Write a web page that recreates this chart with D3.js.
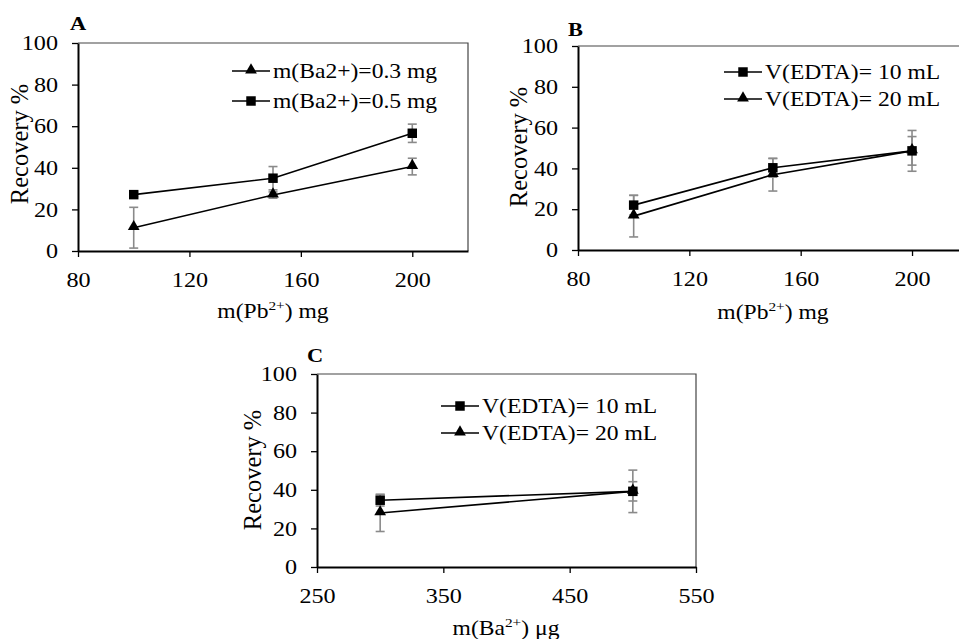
<!DOCTYPE html>
<meta charset="utf-8">
<style>
  body { margin: 0; background: #fff; }
  svg { display: block; font-family: "Liberation Serif", "Times New Roman", serif; }
</style>
<svg width="959" height="639"></svg>
<script src="https://d3js.org/d3.v7.min.js"></script>
<script>

// data
var pbMass = [100, 150, 200];
var baMass = [300, 500];

var recA03 = [11.2, 26.9, 40.6], errA03 = [9.8, 1.5, 4.0];
var recA05 = [27.1, 35.0, 56.6], errA05 = [1.0, 5.6, 4.4];

var recB10 = [22.0, 40.3, 48.6], errB10 = [4.8, 4.6, 10.0];
var recB20 = [16.6, 36.9, 48.6], errB20 = [10.2, 8.0, 7.0];

var recC10 = [34.6, 39.2], errC10 = [3.0, 11.0];
var recC20 = [28.0, 39.2], errC20 = [9.6, 5.0];

var yTicks = [0, 20, 40, 60, 80, 100];
var pbTicks = [80, 120, 160, 200];
var baTicks = [250, 350, 450, 550];

var svg = d3.select("svg");
var SX = 1.18;   // the picture is a little wider than tall

function txt(g, x, y, s, size, anchor, weight) {
  return g.append("text")
    .attr("transform", "translate(" + x + "," + y + ") scale(" + SX + ",1)")
    .attr("font-size", size)
    .attr("text-anchor", anchor || "start")
    .attr("font-weight", weight || "normal")
    .text(s);
}

function symbolPath(kind) {
  return d3.symbol()
    .type(kind == "square" ? d3.symbolSquare : d3.symbolTriangle)
    .size(kind == "square" ? 90 : 60)();
}

function panel(p) {
  var x = d3.scaleLinear().domain(p.xDomain).range([p.left, p.right]);
  var y = d3.scaleLinear().domain([0, 100]).range([p.bottom, p.top]);
  var g = svg.append("g");

  // frame top and right
  g.append("path")
    .attr("d", "M" + p.left + "," + p.top + "H" + p.right + "V" + p.bottom)
    .attr("fill", "none")
    .attr("stroke", "#444")
    .attr("stroke-width", 1.2);

  var ax = g.append("g")
    .attr("transform", "translate(0," + p.bottom + ")")
    .call(d3.axisBottom(x).tickValues(p.xTicks).tickSize(6).tickSizeOuter(0));
  var ay = g.append("g")
    .attr("transform", "translate(" + p.left + ",0)")
    .call(d3.axisLeft(y).tickValues(yTicks).tickSize(6).tickSizeOuter(0));

  [ax, ay].forEach(function(a) {
    a.attr("font-family", null);
    a.select(".domain").attr("stroke", "#000").attr("stroke-width", 2);
    a.selectAll(".tick line").attr("stroke", "#000").attr("stroke-width", 1.3);
    a.selectAll(".tick text")
      .attr("font-size", 21)
      .attr("fill", "#000")
      .attr("transform", "scale(1.15,1)");
  });
  ax.selectAll(".tick text").attr("y", 36).attr("dy", 0);
  ay.selectAll(".tick text").attr("x", -20 / 1.15);

  // error bars first, then lines and markers
  p.series.forEach(function(s) {
    var pts = p.xs.map(function(v, i) { return { x: v, y: s.rec[i], e: s.err[i] }; });
    var eb = g.append("g").attr("stroke", "#8a8a8a").attr("stroke-width", 1.6);
    pts.forEach(function(d) {
      var cx = x(d.x), y1 = y(d.y - d.e), y2 = y(d.y + d.e);
      eb.append("line").attr("x1", cx).attr("x2", cx).attr("y1", y1).attr("y2", y2);
      eb.append("line").attr("x1", cx - 4.5).attr("x2", cx + 4.5).attr("y1", y1).attr("y2", y1);
      eb.append("line").attr("x1", cx - 4.5).attr("x2", cx + 4.5).attr("y1", y2).attr("y2", y2);
    });
  });
  p.series.forEach(function(s) {
    var pts = p.xs.map(function(v, i) { return [x(v), y(s.rec[i])]; });
    g.append("path")
      .attr("d", d3.line()(pts))
      .attr("fill", "none")
      .attr("stroke", "#000")
      .attr("stroke-width", 1.6);
    g.selectAll(null).data(pts).enter().append("path")
      .attr("d", symbolPath(s.marker))
      .attr("transform", function(d) { return "translate(" + d[0] + "," + (d[1] + (s.marker == "square" ? 0 : -1)) + ")"; })
      .attr("fill", "#000");
  });

  // legend
  p.series.forEach(function(s, i) {
    var ly = p.legY[i];
    g.append("line")
      .attr("x1", p.legX).attr("x2", p.legX + 38)
      .attr("y1", ly).attr("y2", ly)
      .attr("stroke", "#000").attr("stroke-width", 1.6);
    g.append("path")
      .attr("d", symbolPath(s.marker))
      .attr("transform", "translate(" + (p.legX + 19) + "," + (ly + (s.marker == "square" ? 0 : -1)) + ")");
    txt(g, p.legX + 41, ly + 7, s.name, 20);
  });

  // panel letter
  txt(g, p.letter[0], p.letter[1], p.label, 19, "start", "bold");

  // y title
  g.append("text")
    .attr("transform", "translate(" + p.yTitle[0] + "," + p.yTitle[1] + ") rotate(-90)")
    .attr("font-size", 24.5)
    .attr("text-anchor", "middle")
    .text("Recovery %");

  // x title with superscript
  var t = g.append("text")
    .attr("transform", "translate(" + p.xTitle[0] + "," + p.xTitle[1] + ") scale(" + SX + ",1)")
    .attr("font-size", 20)
    .attr("text-anchor", "middle");
  t.append("tspan").text("m(" + p.ion);
  t.append("tspan").attr("font-size", 13).attr("dy", -8).text("2+");
  t.append("tspan").attr("dy", 8).text(") " + p.unit);
}

panel({
  label: "A", letter: [70, 30],
  left: 78, right: 468, top: 43, bottom: 251,
  xDomain: [80, 220], xTicks: pbTicks, xs: pbMass,
  series: [
    { name: "m(Ba2+)=0.3 mg", marker: "triangle", rec: recA03, err: errA03 },
    { name: "m(Ba2+)=0.5 mg", marker: "square", rec: recA05, err: errA05 }
  ],
  legX: 232, legY: [71, 101],
  yTitle: [28, 144], xTitle: [273, 318], ion: "Pb", unit: "mg"
});

panel({
  label: "B", letter: [568, 35.5],
  left: 578, right: 967.7, top: 46, bottom: 250,
  xDomain: [80, 220], xTicks: pbTicks, xs: pbMass,
  series: [
    { name: "V(EDTA)= 10 mL", marker: "square", rec: recB10, err: errB10 },
    { name: "V(EDTA)= 20 mL", marker: "triangle", rec: recB20, err: errB20 }
  ],
  legX: 724, legY: [72, 99],
  yTitle: [527, 147], xTitle: [773, 319], ion: "Pb", unit: "mg"
});

panel({
  label: "C", letter: [307, 362],
  left: 317, right: 696, top: 374, bottom: 567,
  xDomain: [250, 550], xTicks: baTicks, xs: baMass,
  series: [
    { name: "V(EDTA)= 10 mL", marker: "square", rec: recC10, err: errC10 },
    { name: "V(EDTA)= 20 mL", marker: "triangle", rec: recC20, err: errC20 }
  ],
  legX: 441, legY: [406, 433],
  yTitle: [261, 470], xTitle: [506, 635], ion: "Ba", unit: "\u03bcg"
});

</script>
